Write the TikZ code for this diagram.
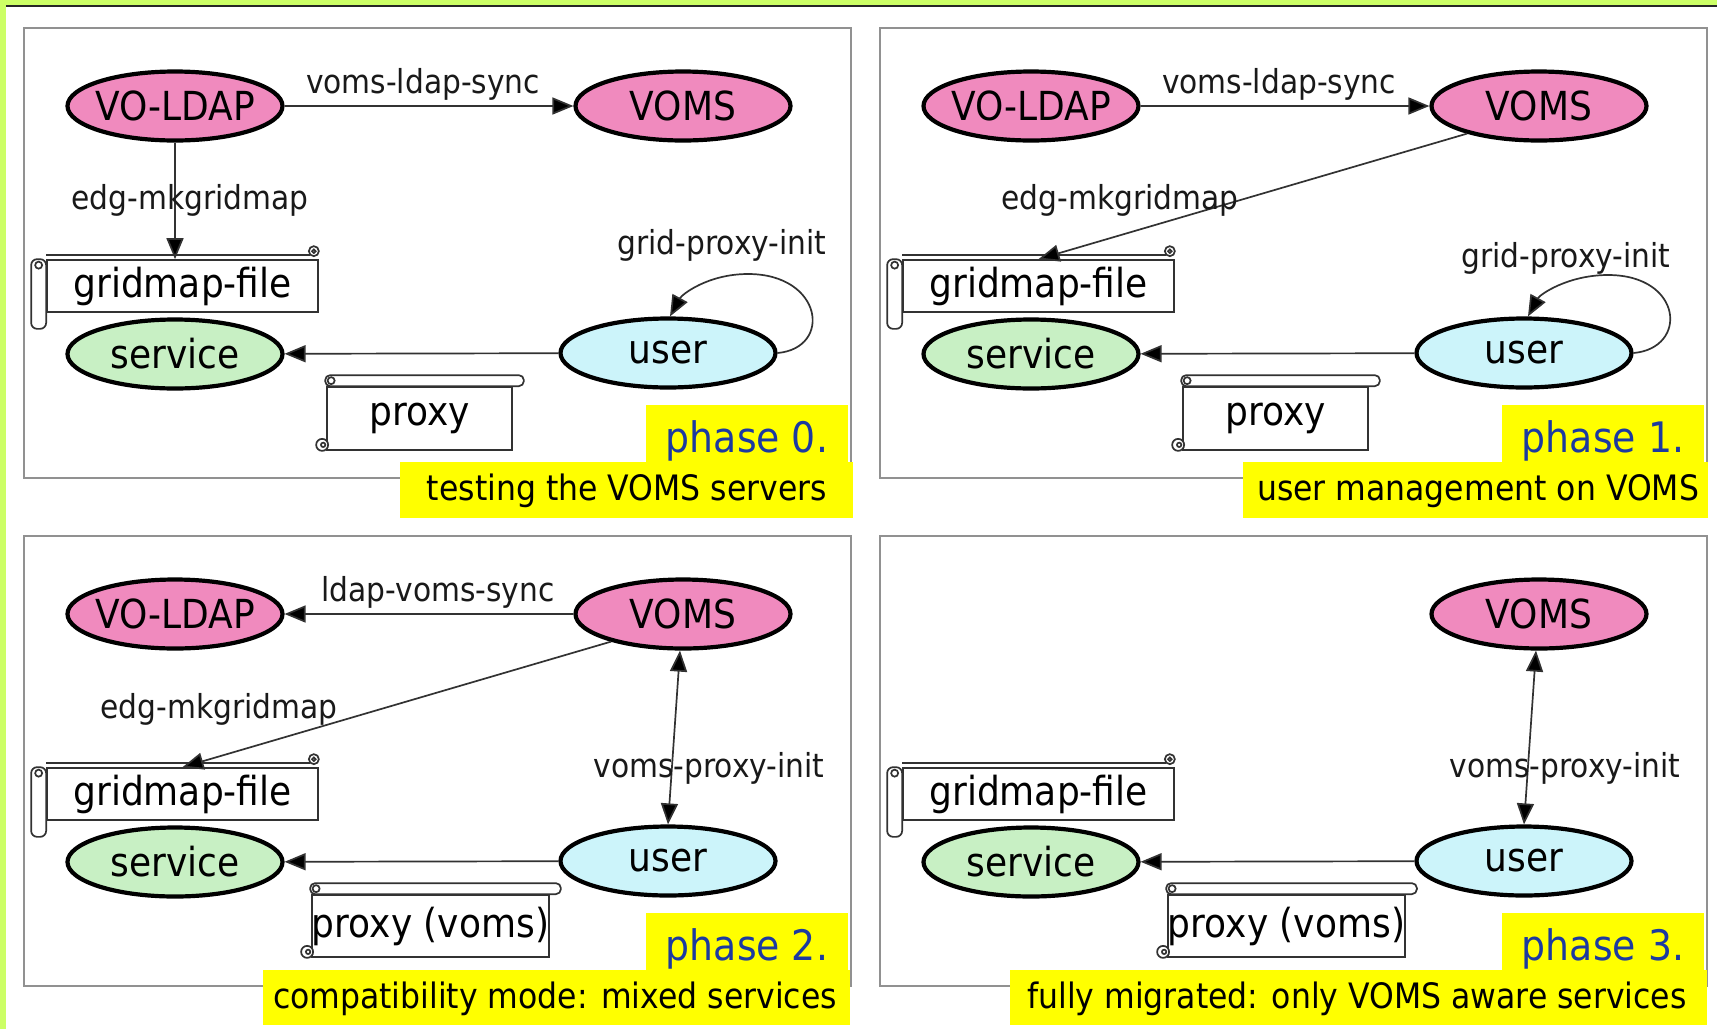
\documentclass[tikz,border=0pt]{standalone}
\usepackage{fontspec}
\setmainfont{DejaVu Sans}[FakeStretch=0.9]
\usetikzlibrary{arrows.meta,calc,shapes.geometric}

\definecolor{pinkfill}{RGB}{240,138,190}
\definecolor{greenfill}{RGB}{200,240,196}
\definecolor{cyanfill}{RGB}{204,244,250}
\definecolor{hiyellow}{RGB}{255,255,0}
\definecolor{phaseblue}{RGB}{28,58,160}
\definecolor{framegreen}{RGB}{204,255,102}
\definecolor{panelgray}{RGB}{145,145,145}
\definecolor{linegray}{RGB}{50,50,50}

\newcommand\zbox[1]{\makebox[0pt]{#1}}

\tikzset{
  ell/.style={ellipse, draw=black, line width=4.2pt, minimum width=215pt, minimum height=69pt,
              inner sep=0pt, font=\fontsize{40}{44}\selectfont},
  ldap/.style={ell, fill=pinkfill},
  svc/.style={ell, fill=greenfill},
  usr/.style={ell, fill=cyanfill},
  scrollbody/.style={rectangle, draw=linegray, line width=1.7pt, fill=white, inner sep=0pt,
              font=\fontsize{40}{44}\selectfont},
  scrollline/.style={draw=linegray, line width=1.7pt},
  tipx/.style={},
  conn/.style={draw=linegray, line width=1.7pt, -{Triangle[length=21pt,width=17pt,fill=black]}},
  conntwo/.style={draw=linegray, line width=1.7pt, {Triangle[length=21pt,width=17pt,fill=black]}-{Triangle[length=21pt,width=17pt,fill=black]}},
  lab/.style={font=\fontsize{33}{36}\selectfont, text=black!90, anchor=base, inner sep=0pt},
  phase/.style={font=\fontsize{42}{46}\selectfont, text=phaseblue, anchor=base, inner sep=0pt},
  subt/.style={font=\fontsize{35}{38}\selectfont, text=black, anchor=base, inner sep=0pt},
  panelframe/.style={draw=panelgray, line width=2.8pt},
}

\newcommand\hscrolldeco[1]{%
  \draw[scrollline] ($(#1.north west)+(0,-4)$) -- ($(#1.north east)+(-9,-4)$);
  \draw[scrollline, fill=white] ($(#1.north east)+(-5,-8)$) circle[radius=5pt];
  \draw[scrollline] ($(#1.north east)+(-5,-8)$) circle[radius=1.8pt];
  \draw[scrollline, fill=white, rounded corners=6pt] ($(#1.north west)+(-15,0)$) rectangle ($(#1.south west)+(0,16)$);
  \draw[scrollline] ($(#1.north west)+(-7.5,6)$) circle[radius=3.5pt];
}
\newcommand\vscrolldeco[1]{%
  \draw[scrollline, fill=white, rounded corners=5pt] ($(#1.north west)+(-1,-11)$) rectangle ($(#1.north east)+(11,0)$);
  \draw[scrollline] ($(#1.north west)+(5,-5.5)$) circle[radius=3.5pt];
  \draw[scrollline, fill=white] ($(#1.south west)+(-4,-6)$) circle[radius=6pt];
  \draw[scrollline] ($(#1.south west)+(-3,-6)$) circle[radius=2.2pt];
}

\begin{document}
\begin{tikzpicture}[x=1pt,y=-1pt]
\useasboundingbox (0,0) rectangle (1717,1029);
% page background and frame strips
\fill[white] (0,0) rectangle (1717,1029);
\fill[framegreen] (0,0) rectangle (6,1029);
\fill[framegreen] (0,0) rectangle (1717,5.5);
\fill[black!85] (6,5) rectangle (1717,7.4);

% panel frames
\draw[panelframe] (24,28) rectangle (851,478);
\draw[panelframe] (880,28) rectangle (1707,478);
\draw[panelframe] (24,536) rectangle (851,986);
\draw[panelframe] (880,536) rectangle (1707,986);

% ---------------- phase 0 ----------------
\node[scrollbody, minimum width=271pt, minimum height=52pt] (g0) at (182.5,286) {gridmap-file};
\hscrolldeco{g0}
\node[scrollbody, minimum width=185pt, minimum height=63pt] (p0) at (419.5,418.5) {proxy};
\vscrolldeco{p0}
\node[ldap] (v0) at (175,106) {\zbox{VO-LDAP}};
\node[ldap] (m0) at (683,106) {\zbox{VOMS}};
\node[svc] (s0) at (175,354) {\zbox{service}};
\node[usr] (u0) at (668,353) {\zbox{user}};
\draw[conn] (v0) -- (m0);
\draw[conn] (v0.south) -- (v0.south |- g0.north);
\draw[conn] (u0) -- (s0);
\draw[conn] (u0.east) .. controls +(55,-5) and +(75,0) .. ($(u0.center)+(80,-79)$)
  .. controls +(-40,0) and +(12,-22) .. ([xshift=2pt]u0.north);
\node[lab] (l0a) at (423,93) {voms-ldap-sync};
\node[lab] (l0b) at (190,209) {edg-mkgridmap};
\node[lab] (l0c) at (722,254) {grid-proxy-init};

% ---------------- phase 1 ----------------
\node[scrollbody, minimum width=271pt, minimum height=52pt] (g1) at (1038.5,286) {gridmap-file};
\hscrolldeco{g1}
\node[scrollbody, minimum width=185pt, minimum height=63pt] (p1) at (1275.5,418.5) {proxy};
\vscrolldeco{p1}
\node[ldap] (v1) at (1031,106) {\zbox{VO-LDAP}};
\node[ldap] (m1) at (1539,106) {\zbox{VOMS}};
\node[svc] (s1) at (1031,354) {\zbox{service}};
\node[usr] (u1) at (1524,353) {\zbox{user}};
\draw[conn] (v1) -- (m1);
\draw[conn] (m1.201) -- (g1.north);
\draw[conn] (u1) -- (s1);
\draw[conn] (u1.east) .. controls +(55,-5) and +(75,0) .. ($(u1.center)+(84,-78)$)
  .. controls +(-40,0) and +(12,-22) .. ([xshift=4pt]u1.north);
\node[lab] (l1a) at (1279,93) {voms-ldap-sync};
\node[lab] (l1b) at (1120,209) {edg-mkgridmap};
\node[lab] (l1c) at (1566,267) {grid-proxy-init};

% ---------------- phase 2 ----------------
\node[scrollbody, minimum width=271pt, minimum height=52pt] (g2) at (182.5,794) {gridmap-file};
\hscrolldeco{g2}
\node[scrollbody, minimum width=235pt, minimum height=62pt] (p2) at (430.5,926) {proxy (voms)};
\vscrolldeco{p2}
\node[ldap] (v2) at (175,614) {\zbox{VO-LDAP}};
\node[ldap] (m2) at (683,614) {\zbox{VOMS}};
\node[svc] (s2) at (175,862) {\zbox{service}};
\node[usr] (u2) at (668,861) {\zbox{user}};
\draw[conn] (m2) -- (v2);
\draw[conn] (m2.201) -- (g2.north);
\draw[conntwo] ([xshift=-3pt]m2.south) -- (u2.north);
\draw[conn] (u2) -- (s2);
\node[lab] (l2a) at (438,601) {ldap-voms-sync};
\node[lab] (l2b) at (219,718) {edg-mkgridmap};
\node[lab] (l2c) at (709,777) {voms-proxy-init};

% ---------------- phase 3 ----------------
\node[scrollbody, minimum width=271pt, minimum height=52pt] (g3) at (1038.5,794) {gridmap-file};
\hscrolldeco{g3}
\node[scrollbody, minimum width=235pt, minimum height=62pt] (p3) at (1286.5,926) {proxy (voms)};
\vscrolldeco{p3}
\node[ldap] (m3) at (1539,614) {\zbox{VOMS}};
\node[svc] (s3) at (1031,862) {\zbox{service}};
\node[usr] (u3) at (1524,861) {\zbox{user}};
\draw[conntwo] ([xshift=-3pt]m3.south) -- (u3.north);
\draw[conn] (u3) -- (s3);
\node[lab] (l3c) at (1565,777) {voms-proxy-init};

% ---------------- yellow captions ----------------
\fill[hiyellow] (646,405) rectangle (848,463);
\fill[hiyellow] (400,462) rectangle (853,518);
\node[phase] (t0) at (747,452) {phase 0.};
\node[subt] (c0) at (627,500) {testing the VOMS servers};

\fill[hiyellow] (1502,405) rectangle (1704,463);
\fill[hiyellow] (1243,462) rectangle (1708,518);
\node[phase] (t1) at (1603,452) {phase 1.};
\node[subt] (c1) at (1478,500) {user management on VOMS};

\fill[hiyellow] (646,913) rectangle (848,971);
\fill[hiyellow] (263,970) rectangle (850,1025);
\node[phase] (t2) at (747,960) {phase 2.};
\node[subt] (c2) at (555,1008) {compatibility mode: mixed services};

\fill[hiyellow] (1502,913) rectangle (1704,971);
\fill[hiyellow] (1010,970) rectangle (1707,1025);
\node[phase] (t3) at (1603,960) {phase 3.};
\node[subt] (c3) at (1357,1008) {fully migrated: only VOMS aware services};
\end{tikzpicture}
\end{document}
